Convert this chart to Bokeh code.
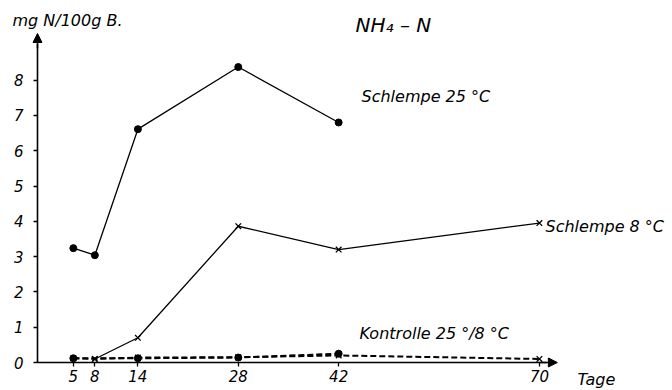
from bokeh.plotting import figure
from bokeh.models import Range1d, FixedTicker, Arrow, NormalHead, Label
from bokeh.embed import file_html
from bokeh.resources import INLINE

# data (days, mg N / 100 g B.)
days_s25 = [5, 8, 14, 28, 42]
vals_s25 = [3.24, 3.04, 6.61, 8.37, 6.8]
days_s8 = [8, 14, 28, 42, 70]
vals_s8 = [0.1, 0.7, 3.86, 3.2, 3.95]
days_k25 = [5, 14, 28, 42]
vals_k25 = [0.12, 0.12, 0.14, 0.25]
days_k8 = [5, 8, 14, 28, 42, 70]
vals_k8 = [0.12, 0.1, 0.14, 0.15, 0.2, 0.1]
x_ticks = [5, 8, 14, 28, 42, 70]
y_ticks = [0, 1, 2, 3, 4, 5, 6, 7, 8]

FONT = "DejaVu Sans"

p = figure(width=670, height=388,
           x_range=Range1d(-5.16, 88.28), y_range=Range1d(-0.7365, 10.255),
           output_backend="svg", toolbar_location=None, min_border=0)
p.min_border_left = 0
p.min_border_right = 0
p.min_border_top = 0
p.min_border_bottom = 0
p.outline_line_color = None
p.grid.visible = False
p.background_fill_color = "white"

for ax in (p.xaxis, p.yaxis):
    ax.fixed_location = 0
    ax.axis_line_width = 1.6
    ax.axis_line_color = "black"
    ax.major_tick_in = 0
    ax.major_tick_out = 4
    ax.major_tick_line_width = 1.3
    ax.minor_tick_line_color = None
    ax.major_label_text_font = FONT
    ax.major_label_text_font_style = "italic"
    ax.major_label_text_font_size = "15px"
    ax.major_label_text_color = "black"

p.xaxis.ticker = FixedTicker(ticks=x_ticks)
p.yaxis.ticker = FixedTicker(ticks=y_ticks)
p.xaxis.bounds = (0, 71)
p.yaxis.bounds = (0, 9.0)
p.yaxis.major_label_standoff = 10
p.xaxis.major_label_standoff = 3

# axis arrows
p.add_layout(Arrow(end=NormalHead(size=9, fill_color="black", line_color="black"),
                   x_start=0, y_start=8.9, x_end=0, y_end=9.32,
                   line_width=1.6, line_color="black"))
p.add_layout(Arrow(end=NormalHead(size=9, fill_color="black", line_color="black"),
                   x_start=70, y_start=0, x_end=72.5, y_end=0,
                   line_width=1.6, line_color="black"))

# control series (dashed)
p.line(days_k8, vals_k8, line_color="black", line_width=2, line_dash="6 3")
p.line(days_k25, vals_k25, line_color="black", line_width=2, line_dash="6 3")
p.scatter(days_k25, vals_k25, marker="circle", size=7, fill_color="black", line_color="black")
p.scatter(days_k8, vals_k8, marker="x", size=8, line_color="black", line_width=1.3)

# Schlempe 25 °C
p.line(days_s25, vals_s25, line_color="black", line_width=1.3)
p.scatter(days_s25, vals_s25, marker="circle", size=7, fill_color="black", line_color="black")

# Schlempe 8 °C
p.line(days_s8, vals_s8, line_color="black", line_width=1.3)
p.scatter(days_s8, vals_s8, marker="x", size=8, line_color="black", line_width=1.3)

def lab(x, y, text, size="16px"):
    p.add_layout(Label(x=x, y=y, text=text, text_font=FONT, text_font_style="italic",
                       text_font_size=size, text_baseline="middle", text_align="left",
                       text_color="black"))

lab(-3.49, 9.69, "mg N/100g B.", "16px")
lab(44.35, 9.55, "NH₄ – N", "20px")
lab(45.19, 7.54, "Schlempe   25 °C")
lab(70.85, 3.85, "Schlempe 8 °C")
lab(44.9, 0.82, "Kontrolle  25 °/8 °C")
lab(75.3, -0.48, "Tage")

open("out.html", "w").write(file_html(p, INLINE))
